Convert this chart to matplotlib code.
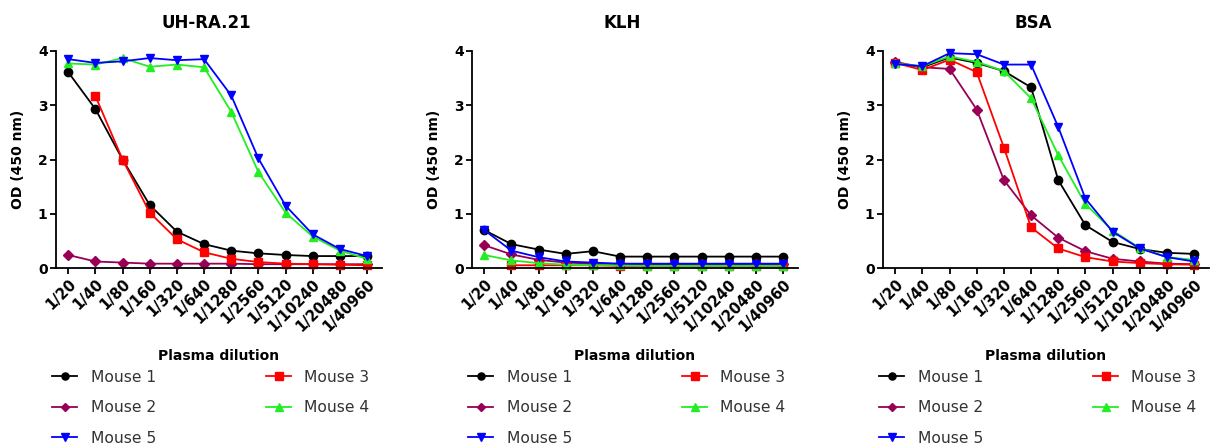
import matplotlib
matplotlib.use("Agg")
import matplotlib.pyplot as plt

# dilutions on the x axis
dilutions = ["1/20", "1/40", "1/80", "1/160", "1/320", "1/640", "1/1280",
             "1/2560", "1/5120", "1/10240", "1/20480", "1/40960"]
panels = ["UH-RA.21", "KLH", "BSA"]
mice = ["Mouse 1", "Mouse 2", "Mouse 3", "Mouse 4", "Mouse 5"]

# OD readings, None = not measured
uh_m1 = [3.61, 2.93, 2.00, 1.16, 0.67, 0.44, 0.32, 0.27, 0.24, 0.22, 0.22, 0.22]
uh_m2 = [0.24, 0.12, 0.10, 0.08, 0.08, 0.08, 0.08, 0.07, 0.07, 0.07, 0.07, 0.07]
uh_m3 = [None, 3.17, 2.00, 1.02, 0.53, 0.29, 0.17, 0.11, 0.08, 0.07, 0.06, 0.05]
uh_m4 = [3.77, 3.75, 3.87, 3.71, 3.75, 3.70, 2.88, 1.77, 1.02, 0.58, 0.32, 0.17]
uh_m5 = [3.85, 3.78, 3.81, 3.87, 3.83, 3.85, 3.18, 2.02, 1.15, 0.62, 0.35, 0.22]

klh_m1 = [0.70, 0.44, 0.34, 0.26, 0.31, 0.21, 0.21, 0.21, 0.21, 0.21, 0.21, 0.21]
klh_m2 = [0.42, 0.25, 0.15, 0.10, 0.08, 0.07, 0.07, 0.07, 0.07, 0.07, 0.07, 0.07]
klh_m3 = [None, 0.05, 0.05, 0.05, 0.05, 0.04, 0.04, 0.04, 0.04, 0.04, 0.04, 0.04]
klh_m4 = [0.24, 0.14, 0.09, 0.06, 0.05, 0.05, 0.04, 0.04, 0.04, 0.04, 0.04, 0.04]
klh_m5 = [0.70, 0.32, 0.20, 0.12, 0.10, 0.08, 0.08, 0.08, 0.08, 0.08, 0.08, 0.08]

bsa_m1 = [3.78, 3.70, 3.88, 3.78, 3.63, 3.33, 1.62, 0.79, 0.48, 0.35, 0.28, 0.26]
bsa_m2 = [3.80, 3.70, 3.67, 2.92, 1.62, 0.97, 0.56, 0.31, 0.17, 0.12, 0.08, 0.07]
bsa_m3 = [3.78, 3.65, 3.84, 3.61, 2.22, 0.75, 0.36, 0.20, 0.12, 0.09, 0.07, 0.06]
bsa_m4 = [3.77, 3.72, 3.90, 3.80, 3.63, 3.13, 2.08, 1.18, 0.69, 0.37, 0.20, 0.15]
bsa_m5 = [3.76, 3.72, 3.96, 3.94, 3.75, 3.75, 2.60, 1.28, 0.67, 0.36, 0.20, 0.12]

data = [[uh_m1, uh_m2, uh_m3, uh_m4, uh_m5],
        [klh_m1, klh_m2, klh_m3, klh_m4, klh_m5],
        [bsa_m1, bsa_m2, bsa_m3, bsa_m4, bsa_m5]]

colors = ["black", "#990055", "#ff0000", "#22ee22", "#0000ff"]
markers = ["o", "D", "s", "^", "v"]
msizes = [6, 5, 6, 6, 6]

plt.rcParams['font.family'] = 'DejaVu Sans'

fig = plt.figure(figsize=(12.13, 4.48), dpi=100)
W, H = 1213., 448.
lefts = [56, 472, 883]
x = list(range(len(dilutions)))

for p in range(3):
    ax = fig.add_axes([lefts[p]/W, 180/H, 326/W, 217/H])
    for m in range(5):
        xs = [x[i] for i in range(len(x)) if data[p][m][i] is not None]
        ys = [v for v in data[p][m] if v is not None]
        ax.plot(xs, ys, color=colors[m], marker=markers[m], ms=msizes[m],
                lw=1.3, label=mice[m], clip_on=False)
    ax.set_xlim(-0.45, 11.55)
    ax.set_ylim(0, 4)
    ax.set_yticks([0, 1, 2, 3, 4])
    ax.set_xticks(x)
    ax.set_xticklabels(dilutions, rotation=45, ha='right', va='top',
                       rotation_mode='anchor', fontweight='bold', fontsize=10.5)
    for t in ax.get_yticklabels():
        t.set_fontweight('bold')
        t.set_fontsize(10)
    ax.spines['top'].set_visible(False)
    ax.spines['right'].set_visible(False)
    ax.spines['left'].set_linewidth(1.3)
    ax.spines['bottom'].set_linewidth(1.3)
    ax.tick_params(width=1.3, length=4, direction='out', pad=2)
    ax.set_ylabel("OD (450 nm)", fontweight='bold', fontsize=10, labelpad=9)
    ax.set_xlabel("Plasma dilution", fontweight='bold', fontsize=10, labelpad=11)
    ax.text(0.46, 1.13, panels[p], transform=ax.transAxes, ha='center',
            va='center', fontweight='bold', fontsize=12)
    h, l = ax.get_legend_handles_labels()
    order = [0, 1, 4, 2, 3]
    leg = ax.legend([h[i] for i in order], [l[i] for i in order], ncol=2,
                    loc='upper left', bbox_to_anchor=(-0.03, -0.44),
                    frameon=False, fontsize=11.2, handlelength=1.6,
                    handletextpad=0.85, columnspacing=7.1, labelspacing=1.0,
                    borderaxespad=0, markerscale=0.85)
    for t in leg.get_texts():
        t.set_color('#333333')

fig.savefig("out.png", dpi=100)
